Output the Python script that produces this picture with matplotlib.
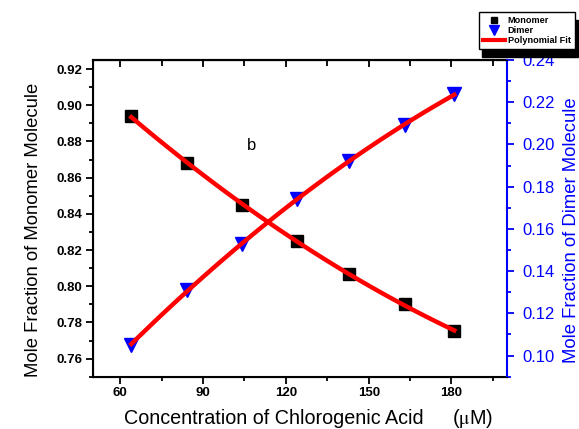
import matplotlib
matplotlib.use('Agg')
import matplotlib.pyplot as plt
import numpy as np
from matplotlib.ticker import MultipleLocator
from matplotlib.lines import Line2D

plt.rcParams['font.family'] = ['Liberation Sans', 'DejaVu Sans']
plt.rcParams['mathtext.fontset'] = 'stix'

conc = [64, 84, 104, 124, 143, 163, 181]
monomer = [0.894, 0.868, 0.845, 0.825, 0.807, 0.790, 0.775]
dimer = [0.105, 0.131, 0.153, 0.174, 0.192, 0.209, 0.224]

# second order polynomial fits
xs = np.linspace(min(conc), max(conc), 100)
fit_m = np.polyval(np.polyfit(conc, monomer, 2), xs)
fit_d = np.polyval(np.polyfit(conc, dimer, 2), xs)

fig = plt.figure(figsize=(5.79, 4.29), dpi=100)
ax = fig.add_axes([0.1601, 0.1219, 0.7150, 0.7382])
ax2 = ax.twinx()

ax.plot(conc, monomer, 's', color='black', markersize=9.2, zorder=3)
ax.plot(xs, fit_m, color='red', lw=3.2, zorder=4)
ax2.plot(conc, dimer, 'v', color='blue', markersize=10.5, zorder=3)
ax2.plot(xs, fit_d, color='red', lw=3.2, zorder=4)

ax.set_xlim(50, 200)
ax.set_ylim(0.75, 0.925)
ax2.set_ylim(0.09, 0.24)

ax.set_xticks([60, 90, 120, 150, 180])
ax.xaxis.set_minor_locator(MultipleLocator(15))
ax.yaxis.set_major_locator(MultipleLocator(0.02))
ax.yaxis.set_minor_locator(MultipleLocator(0.01))
ax2.yaxis.set_major_locator(MultipleLocator(0.02))
ax2.yaxis.set_minor_locator(MultipleLocator(0.01))

ax.tick_params(axis='both', which='both', direction='out', width=1.3)
ax.tick_params(axis='both', which='major', length=5, labelsize=9.5, pad=2.5)
ax.tick_params(axis='both', which='minor', length=3)
for lab in ax.get_xticklabels() + ax.get_yticklabels():
    lab.set_fontweight('bold')

# top axis: inward ticks, no labels
top = ax.secondary_xaxis('top')
top.set_xticks([60, 90, 120, 150, 180])
top.xaxis.set_minor_locator(MultipleLocator(15))
top.tick_params(which='both', direction='in', width=1.3, labeltop=False)
top.tick_params(which='major', length=5)
top.tick_params(which='minor', length=4)
top.spines['top'].set_linewidth(1.5)

ax2.tick_params(axis='y', which='both', colors='blue', width=1.3, direction='out')
ax2.tick_params(axis='y', which='major', length=5, labelsize=12, pad=6)
ax2.tick_params(axis='y', which='minor', length=3)
ax2.spines['right'].set_color('blue')
ax2.spines['right'].set_linewidth(1.5)
for s in ['left', 'top', 'bottom']:
    ax.spines[s].set_linewidth(1.5)
ax.spines['right'].set_visible(False)

ax.set_ylabel('Mole Fraction of Monomer Molecule', fontsize=13.3)
ax.yaxis.set_label_coords(-0.1225, 0.463)
ax2.set_ylabel('Mole Fraction of Dimer Molecule', fontsize=13.3, color='blue')
ax2.yaxis.set_label_coords(1.135, 0.463)

ax.set_xlabel('Concentration of Chlorogenic Acid', fontsize=14.2)
ax.xaxis.label.set_verticalalignment('baseline')
ax.xaxis.set_label_coords(0.4385, -0.150)
fig.text(452.5 / 579, 5.5 / 429, '(' + r'$\mathrm{\mu}$' + 'M)', fontsize=14.2,
         va='baseline')

ax.text(107.4, 0.878, 'b', fontsize=12, ha='center', va='center')

handles = [
    Line2D([], [], marker='s', color='black', ls='none', markersize=5),
    Line2D([], [], marker='v', color='blue', ls='none', markersize=7.5),
    Line2D([], [], color='red', lw=3),
]
fig.legend(handles, ['Monomer', 'Dimer', 'Polynomial Fit'],
           loc='upper right', bbox_to_anchor=(575 / 579, 1 - 12.3 / 429),
           borderaxespad=0, prop={'size': 6.6, 'weight': 'bold'},
           frameon=True, fancybox=False, edgecolor='black',
           handlelength=2.4, labelspacing=0.1, borderpad=0.45,
           handletextpad=0.35,
           shadow={'ox': 2.5, 'oy': -5.5, 'color': 'black', 'alpha': 1})

fig.savefig('out.png', dpi=100)
